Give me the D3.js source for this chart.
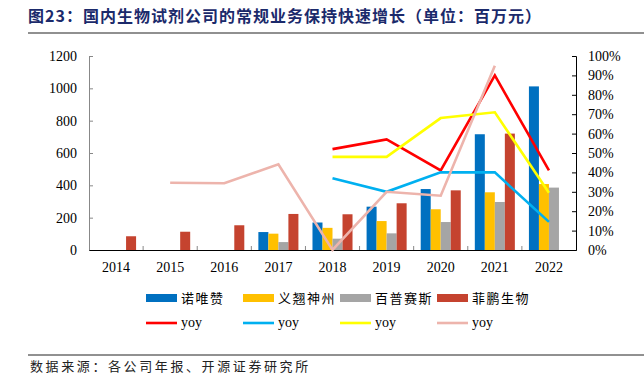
<!DOCTYPE html>
<html>
<head>
<meta charset="utf-8">
<script src="https://cdn.jsdelivr.net/npm/d3@7"></script>
<style>
  html, body { margin: 0; padding: 0; background: #fff; }
  svg { display: block; }
</style>
</head>
<body>
<svg id="chart" width="644" height="376"></svg>
<script>
// ---- data ----
const years = ["2014","2015","2016","2017","2018","2019","2020","2021","2022"];
const barNames = ["诺唯赞","义翘神州","百普赛斯","菲鹏生物"];
const nuoweizan = [null,null,null,111,170,268,377,716,1012];
const yiqiao    = [null,null,null,101,137,179,252,357,408];
const baipu     = [null,null,null,49,70,103,173,297,386];
const feipeng   = [85,113,153,223,221,289,369,720,null];
const yoyNuowei = [null,null,null,null,0.52,0.57,0.41,0.90,0.41];
const yoyYiqiao = [null,null,null,null,0.37,0.30,0.40,0.40,0.145];
const yoyBaipu  = [null,null,null,null,0.48,0.48,0.68,0.71,0.295];
const yoyFeipeng= [null,0.347,0.344,0.442,0.0,0.30,0.28,0.95,null];
const leftTicks = [0,200,400,600,800,1000,1200];
const rightTicks = [0,0.1,0.2,0.3,0.4,0.5,0.6,0.7,0.8,0.9,1.0];

const barSeries = [nuoweizan, yiqiao, baipu, feipeng];
const barColors = ["#0070C0","#FFC000","#A5A5A5","#C5432F"];
const lineSeries = [yoyNuowei, yoyYiqiao, yoyBaipu, yoyFeipeng];
const lineColors = ["#FF0000","#00B0F0","#FFFF00","#EDB4AC"];

const svg = d3.select("#chart");
const L = 89, R = 576, T = 56, B = 250;

const x = d3.scaleBand().domain(years).range([L, R]).padding(0);
const bw = x.bandwidth();
const xi = d3.scaleBand().domain(d3.range(4)).range([bw*0.13, bw*0.87]).padding(0);
const y = d3.scaleLinear().domain([0,1200]).range([B, T]);
const y2 = d3.scaleLinear().domain([0,1]).range([B, T]);

// title
svg.append("text").attr("x", 28).attr("y", 22)
  .attr("font-family", "'Noto Sans CJK SC', sans-serif").attr("font-weight", "bold")
  .attr("font-size", 16).attr("fill", "#1B2A6B").attr("letter-spacing", 1.0)
  .text("图23：国内生物试剂公司的常规业务保持快速增长（单位：百万元）");
svg.append("line").attr("x1", 28).attr("x2", 644).attr("y1", 33).attr("y2", 33)
  .attr("stroke", "#222").attr("stroke-width", 1.2);

// bars
barSeries.forEach((s, k) => {
  svg.append("g").selectAll("rect")
    .data(years.map((yr, i) => ({yr, v: s[i]})).filter(d => d.v != null))
    .join("rect")
    .attr("x", d => x(d.yr) + xi(k))
    .attr("width", xi.bandwidth())
    .attr("y", d => y(d.v))
    .attr("height", d => B - y(d.v))
    .attr("fill", barColors[k]);
});

// left axis
const gl = svg.append("g").attr("transform", `translate(${L},0)`)
  .call(d3.axisLeft(y).tickValues(leftTicks).tickSize(-4).tickPadding(12).tickFormat(d3.format("d")));
gl.select(".domain").attr("stroke", "#888");
gl.selectAll(".tick line").attr("stroke", "#888");
gl.selectAll("text").attr("font-family", "'Liberation Serif', serif").attr("font-size", 14).attr("fill", "#000");

// right axis
const gr = svg.append("g").attr("transform", `translate(${R},0)`)
  .call(d3.axisRight(y2).tickValues(rightTicks).tickSize(-4).tickPadding(12).tickFormat(d3.format(".0%")));
gr.select(".domain").attr("stroke", "#000");
gr.selectAll(".tick line").attr("stroke", "#000");
gr.selectAll("text").attr("font-family", "'Liberation Serif', serif").attr("font-size", 14).attr("fill", "#000");

// x axis
const gx = svg.append("g").attr("transform", `translate(0,${B})`)
  .call(d3.axisBottom(x).tickSize(0).tickPadding(12));
gx.select(".domain").attr("stroke", "#000").attr("stroke-width", 1.2);
gx.selectAll("text").attr("font-family", "'Liberation Serif', serif").attr("font-size", 14).attr("fill", "#000");
svg.append("g").selectAll("line").data(years.slice(1)).join("line")
  .attr("x1", d => x(d)).attr("x2", d => x(d)).attr("y1", B).attr("y2", B - 4)
  .attr("stroke", "#888");

// lines
lineSeries.forEach((s, k) => {
  const line = d3.line().defined(d => d.v != null)
    .x(d => x(d.yr) + bw/2).y(d => y2(d.v));
  svg.append("path").datum(years.map((yr, i) => ({yr, v: s[i]})))
    .attr("d", line).attr("fill", "none")
    .attr("stroke", lineColors[k]).attr("stroke-width", 2.6);
});

// legend
const legX = [146, 243, 340, 437];
barNames.forEach((n, k) => {
  svg.append("rect").attr("x", legX[k]).attr("y", 294).attr("width", 31).attr("height", 8)
    .attr("fill", barColors[k]);
  svg.append("text").attr("x", legX[k] + 35).attr("y", 303)
    .attr("font-family", "'Noto Sans CJK SC', sans-serif").attr("font-size", 13)
    .attr("letter-spacing", 1.5).attr("fill", "#000").text(n);
});
lineColors.forEach((c, k) => {
  svg.append("line").attr("x1", legX[k]).attr("x2", legX[k] + 31).attr("y1", 323).attr("y2", 323)
    .attr("stroke", c).attr("stroke-width", 2.6);
  svg.append("text").attr("x", legX[k] + 35).attr("y", 327)
    .attr("font-family", "'Liberation Serif', serif").attr("font-size", 14)
    .attr("fill", "#000").text("yoy");
});

// footer
svg.append("line").attr("x1", 28).attr("x2", 644).attr("y1", 355).attr("y2", 355)
  .attr("stroke", "#222").attr("stroke-width", 1);
svg.append("text").attr("x", 30).attr("y", 371)
  .attr("font-family", "'Noto Sans CJK SC', sans-serif").attr("font-size", 13)
  .attr("letter-spacing", 2.6).attr("fill", "#222")
  .text("数据来源：各公司年报、开源证券研究所");
</script>
</body>
</html>
